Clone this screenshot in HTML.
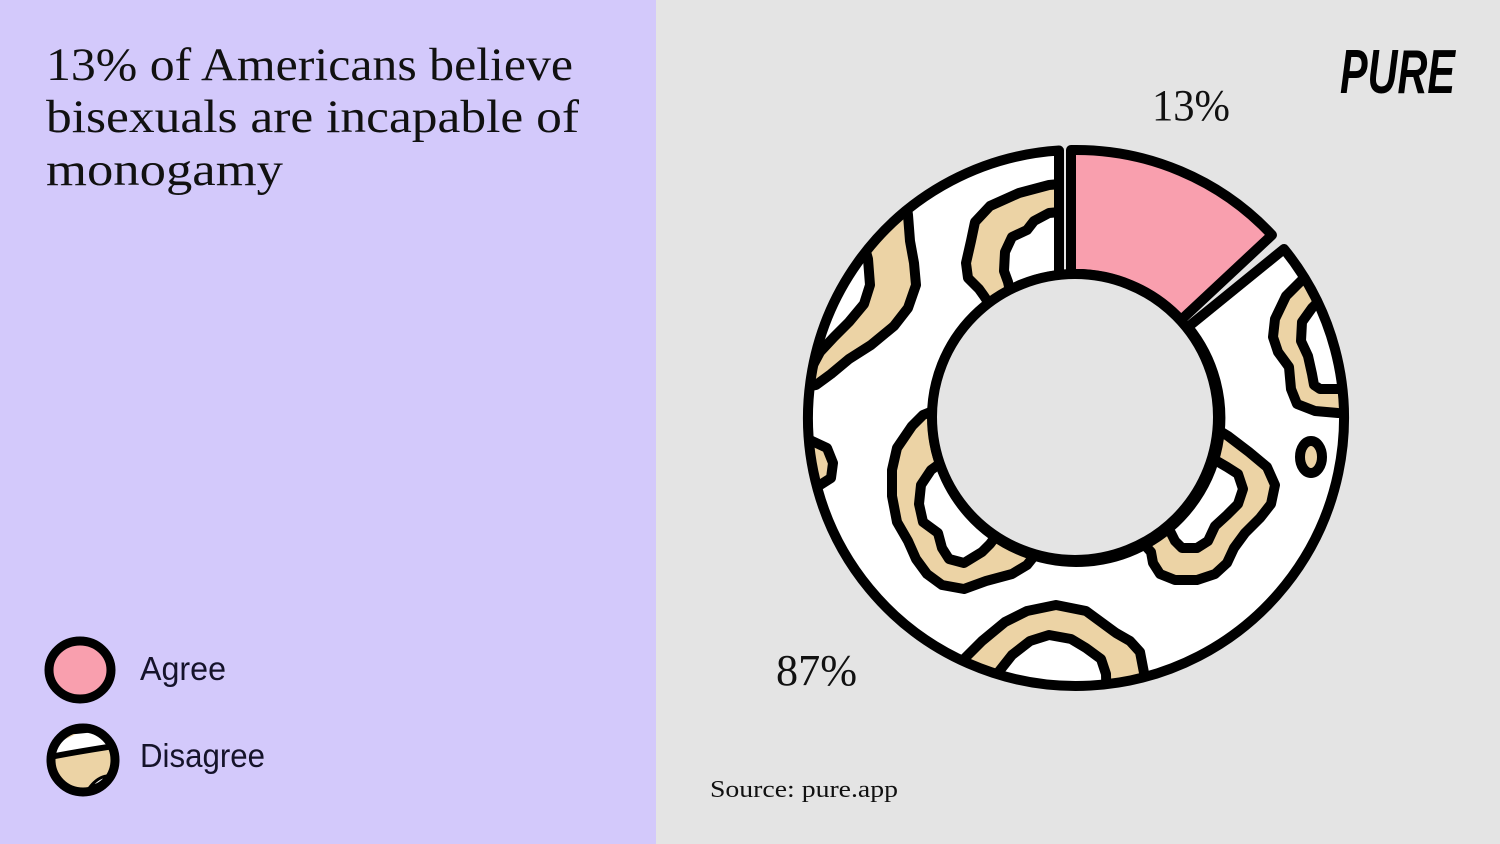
<!DOCTYPE html>
<html>
<head>
<meta charset="utf-8">
<style>
  html,body{margin:0;padding:0;}
  body{width:1500px;height:844px;overflow:hidden;background:#e4e4e4;}
  svg{display:block;}
</style>
</head>
<body>
<svg width="1500" height="844" viewBox="0 0 1500 844" xmlns="http://www.w3.org/2000/svg">
  <defs>
    <clipPath id="seg">
      <path d="M1284,249 A268,268 0 1 1 1059,150.5 L1059,275 A144,144 0 1 0 1188,327 Z"/>
    </clipPath>
    <clipPath id="icon2">
      <circle cx="83" cy="760" r="32"/>
    </clipPath>
  </defs>

  <!-- backgrounds -->
  <rect x="0" y="0" width="1500" height="844" fill="#e4e4e4"/>
  <rect x="0" y="0" width="656" height="844" fill="#d3c9fb"/>

  <!-- Title -->
  <g font-family="'Liberation Serif', serif" fill="#111" font-size="47">
    <text x="46" y="80" textLength="527" lengthAdjust="spacingAndGlyphs">13% of Americans believe</text>
    <text x="46" y="132" textLength="533" lengthAdjust="spacingAndGlyphs">bisexuals are incapable of</text>
    <text x="46" y="185" textLength="237" lengthAdjust="spacingAndGlyphs">monogamy</text>
  </g>

  <!-- Legend -->
  <ellipse cx="80" cy="670" rx="31" ry="29" fill="#f99fae" stroke="#000" stroke-width="9"/>
  <text x="140" y="680" font-family="'Liberation Sans', sans-serif" font-size="33" fill="#15132a" textLength="86" lengthAdjust="spacingAndGlyphs">Agree</text>

  <g clip-path="url(#icon2)">
    <rect x="45" y="720" width="80" height="80" fill="#ecd3a5"/>
    <rect x="45" y="720" width="80" height="14" fill="#000"/>
    <path d="M52,752 L58,742 L68,738 L76,734 L86,733 L96,731 L106,737 L114,746 C95,749 75,752 52,756 Z" fill="#fff"/>
    <path d="M50,757 C75,752 95,749 114,746" fill="none" stroke="#000" stroke-width="6"/>
    <path d="M90,787 Q98,777 107,776 Q101,785 90,787 Z" fill="#fff" stroke="#000" stroke-width="3"/>
  </g>
  <circle cx="83" cy="760" r="32" fill="none" stroke="#000" stroke-width="9"/>
  <text x="140" y="767" font-family="'Liberation Sans', sans-serif" font-size="33" fill="#15132a" textLength="125" lengthAdjust="spacingAndGlyphs">Disagree</text>

  <!-- Logo -->
  <text x="1340" y="93" font-family="'Liberation Sans', sans-serif" font-weight="bold" font-style="italic" font-size="62" fill="#000" textLength="115" lengthAdjust="spacingAndGlyphs">PURE</text>

  <!-- Donut: disagree segment -->
  <path d="M1284,249 A268,268 0 1 1 1059,150.5 L1059,275 A144,144 0 1 0 1188,327 Z" fill="#ffffff"/>

  <g clip-path="url(#seg)" stroke="#000" stroke-width="10" stroke-linejoin="round">
    <!-- Blob A -->
    <path fill="#ecd3a5" d="M1070,183 L1049,185 L1019,193 L990,206 L975,222 L971,241 L966,263 L968,278 L979,289 L984,296 L1000,320 L1070,320 Z"/>
    <path fill="#fff" d="M1070,211 L1049,213 L1034,221 L1027,230 L1012,237 L1005,252 L1004,271 L1008,282 L1012,300 L1070,300 Z"/>
    <!-- Blob B -->
    <path fill="#ecd3a5" d="M905,180 L906,200 L908,215 L910,241 L914,263 L916,285 L908,308 L894,326 L871,345 L849,359 L831,374 L816,385 L780,392 L780,180 Z"/>
    <path fill="#fff" d="M860,230 L868,259 L870,285 L864,304 L849,322 L834,337 L820,352 L812,367 L790,370 L790,230 Z"/>
    <!-- Blob C -->
    <path fill="#ecd3a5" d="M800,438 L812,441 L827,448 L833,463 L831,478 L820,485 L800,487 Z"/>
    <!-- Blob D -->
    <path fill="#ecd3a5" d="M960,400 L923,415 L912,426 L897,448 L892,470 L892,496 L897,522 L908,541 L916,559 L927,574 L942,585 L964,589 L986,581 L1012,574 L1027,565 L1035,555 L1000,480 Z"/>
    <path fill="#fff" d="M942,462 L931,470 L921,485 L919,504 L923,522 L938,533 L942,548 L949,559 L964,563 L982,552 L990,544 L996,536 L975,480 Z"/>
    <!-- Blob E -->
    <path fill="#ecd3a5" d="M1210,425 L1228,436 L1249,452 L1267,467 L1275,485 L1271,504 L1260,518 L1245,533 L1234,548 L1227,563 L1215,574 L1197,580 L1175,580 L1160,574 L1153,563 L1151,552 L1140,540 L1150,480 Z"/>
    <path fill="#fff" d="M1215,460 L1227,467 L1238,474 L1243,489 L1238,504 L1227,515 L1215,526 L1208,541 L1197,548 L1182,548 L1175,541 L1171,533 L1160,520 L1200,470 Z"/>
    <!-- Blob F -->
    <path fill="#ecd3a5" d="M1310,265 L1304,278 L1286,296 L1275,319 L1273,337 L1278,352 L1289,367 L1291,389 L1297,404 L1315,411 L1338,413 L1380,414 L1380,250 Z"/>
    <path fill="#fff" d="M1330,290 L1312,308 L1302,322 L1301,341 L1308,356 L1312,374 L1314,385 L1320,389 L1338,389 L1380,389 L1380,280 Z"/>
    <!-- Blob G -->
    <ellipse cx="1311" cy="457" rx="11" ry="16" fill="#ecd3a5"/>
    <!-- Blob H -->
    <path fill="#ecd3a5" d="M950,720 L960,663 L982,641 L1005,622 L1027,611 L1056,605 L1086,611 L1101,622 L1116,633 L1130,641 L1140,652 L1145,678 L1147,720 Z"/>
    <path fill="#fff" d="M997,720 L997,674 L1012,655 L1030,641 L1049,635 L1071,639 L1086,648 L1101,659 L1106,674 L1107,720 Z"/>
  </g>

  <!-- disagree outline -->
  <path d="M1284,249 A268,268 0 1 1 1059,150.5 L1059,275 A144,144 0 1 0 1188,327 Z" fill="none" stroke="#000" stroke-width="10" stroke-linejoin="round"/>

  <!-- agree segment -->
  <path d="M1071,150 A268,268 0 0 1 1272,235 L1181,320 A144,144 0 0 0 1071,274 Z" fill="#f99fae" stroke="#000" stroke-width="10" stroke-linejoin="round"/>

  <!-- inner circle -->
  <circle cx="1075" cy="417" r="143" fill="#e4e4e4" stroke="#000" stroke-width="10"/>

  <!-- percent labels -->
  <g font-family="'Liberation Serif', serif" fill="#111" font-size="44">
    <text x="1152" y="120" textLength="78" lengthAdjust="spacingAndGlyphs">13%</text>
    <text x="776" y="685" textLength="81" lengthAdjust="spacingAndGlyphs">87%</text>
  </g>

  <!-- source -->
  <text x="710" y="797" font-family="'Liberation Serif', serif" font-size="24" fill="#111" textLength="188" lengthAdjust="spacingAndGlyphs">Source: pure.app</text>
</svg>
</body>
</html>
